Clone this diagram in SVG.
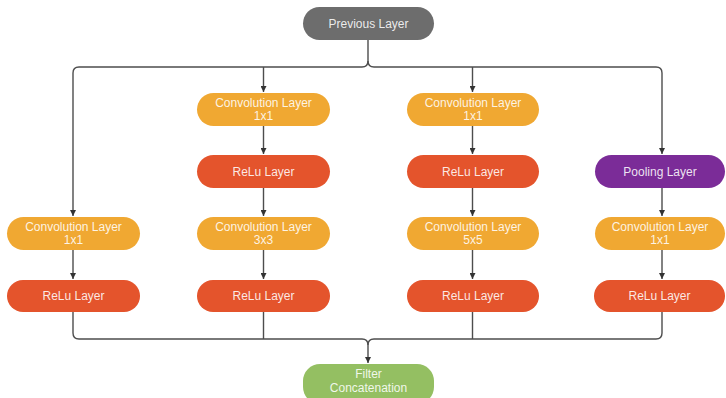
<svg xmlns="http://www.w3.org/2000/svg" width="726" height="398" viewBox="0 0 726 398">
<defs>
<style>
.box{stroke:none}
.gray{fill:#6d6d6d}
.conv{fill:#f0a832}
.relu{fill:#e4542c}
.pool{fill:#7b2c98}
.filt{fill:#94bf62}
text{font-family:"Liberation Sans",Arial,sans-serif;font-size:12px;fill:#fff;fill-opacity:0.88;text-anchor:middle}
.ln{fill:none;stroke:#4d4d4d;stroke-width:1.4}
</style>
<marker id="ah" viewBox="0 0 8 8" refX="8" refY="4" markerWidth="6" markerHeight="6" orient="auto" markerUnits="userSpaceOnUse">
<path d="M0,0 L8,4 L0,8 z" fill="#333"/>
</marker>
</defs>
<rect width="726" height="398" fill="#fff"/>
<g id="connectors">
<path class="ln" d="M368,40 V61 Q368,67 362,67 H79 Q73,67 73,73 V216" marker-end="url(#ah)"/>
<path class="ln" d="M368,61 Q368,67 374,67 H656 Q662,67 662,73 V154" marker-end="url(#ah)"/>
<path class="ln" d="M263.5,67 V92" marker-end="url(#ah)"/>
<path class="ln" d="M472.5,67 V92" marker-end="url(#ah)"/>
<path class="ln" d="M263.5,126 V154" marker-end="url(#ah)"/>
<path class="ln" d="M472.5,126 V154" marker-end="url(#ah)"/>
<path class="ln" d="M263.5,188 V216" marker-end="url(#ah)"/>
<path class="ln" d="M472.5,188 V216" marker-end="url(#ah)"/>
<path class="ln" d="M662,188 V216" marker-end="url(#ah)"/>
<path class="ln" d="M73,250 V279" marker-end="url(#ah)"/>
<path class="ln" d="M263.5,250 V279" marker-end="url(#ah)"/>
<path class="ln" d="M472.5,250 V279" marker-end="url(#ah)"/>
<path class="ln" d="M662,250 V279" marker-end="url(#ah)"/>
<path class="ln" d="M73,312 V333 Q73,339 79,339 H362 Q368,339 368,345"/>
<path class="ln" d="M662,312 V333 Q662,339 656,339 H374 Q368,339 368,345 V363" marker-end="url(#ah)"/>
<path class="ln" d="M263.5,312 V339"/>
<path class="ln" d="M472.5,312 V339"/>
</g>
<g id="prev"><rect class="box gray" x="303" y="7" width="131" height="33" rx="16.5"/><text x="368.5" y="28">Previous Layer</text></g>
<g id="c1conv"><rect class="box conv" x="7" y="217" width="133" height="33" rx="16.5"/><text x="73.5" y="231">Convolution Layer</text><text x="73.5" y="244">1x1</text></g>
<g id="c1relu"><rect class="box relu" x="7" y="280" width="133" height="32" rx="16"/><text x="73.5" y="300">ReLu Layer</text></g>
<g id="c2conv1"><rect class="box conv" x="197" y="93" width="133" height="33" rx="16.5"/><text x="263.5" y="107">Convolution Layer</text><text x="263.5" y="120">1x1</text></g>
<g id="c2relu1"><rect class="box relu" x="197" y="155" width="133" height="33" rx="16.5"/><text x="263.5" y="176">ReLu Layer</text></g>
<g id="c2conv3"><rect class="box conv" x="197" y="217" width="133" height="33" rx="16.5"/><text x="263.5" y="231">Convolution Layer</text><text x="263.5" y="244">3x3</text></g>
<g id="c2relu2"><rect class="box relu" x="197" y="280" width="133" height="32" rx="16"/><text x="263.5" y="300">ReLu Layer</text></g>
<g id="c3conv1"><rect class="box conv" x="407" y="93" width="132" height="33" rx="16.5"/><text x="473" y="107">Convolution Layer</text><text x="473" y="120">1x1</text></g>
<g id="c3relu1"><rect class="box relu" x="407" y="155" width="132" height="33" rx="16.5"/><text x="473" y="176">ReLu Layer</text></g>
<g id="c3conv5"><rect class="box conv" x="407" y="217" width="132" height="33" rx="16.5"/><text x="473" y="231">Convolution Layer</text><text x="473" y="244">5x5</text></g>
<g id="c3relu2"><rect class="box relu" x="407" y="280" width="132" height="32" rx="16"/><text x="473" y="300">ReLu Layer</text></g>
<g id="c4pool"><rect class="box pool" x="595" y="155" width="130" height="33" rx="16.5"/><text x="660" y="176">Pooling Layer</text></g>
<g id="c4conv"><rect class="box conv" x="595" y="217" width="130" height="33" rx="16.5"/><text x="660" y="231">Convolution Layer</text><text x="660" y="244">1x1</text></g>
<g id="c4relu"><rect class="box relu" x="594" y="280" width="131" height="32" rx="16"/><text x="659.5" y="300">ReLu Layer</text></g>
<g id="filter"><rect class="box filt" x="303" y="364" width="131" height="40" rx="17"/><text x="368.5" y="378">Filter</text><text x="368.5" y="392">Concatenation</text></g>
</svg>
